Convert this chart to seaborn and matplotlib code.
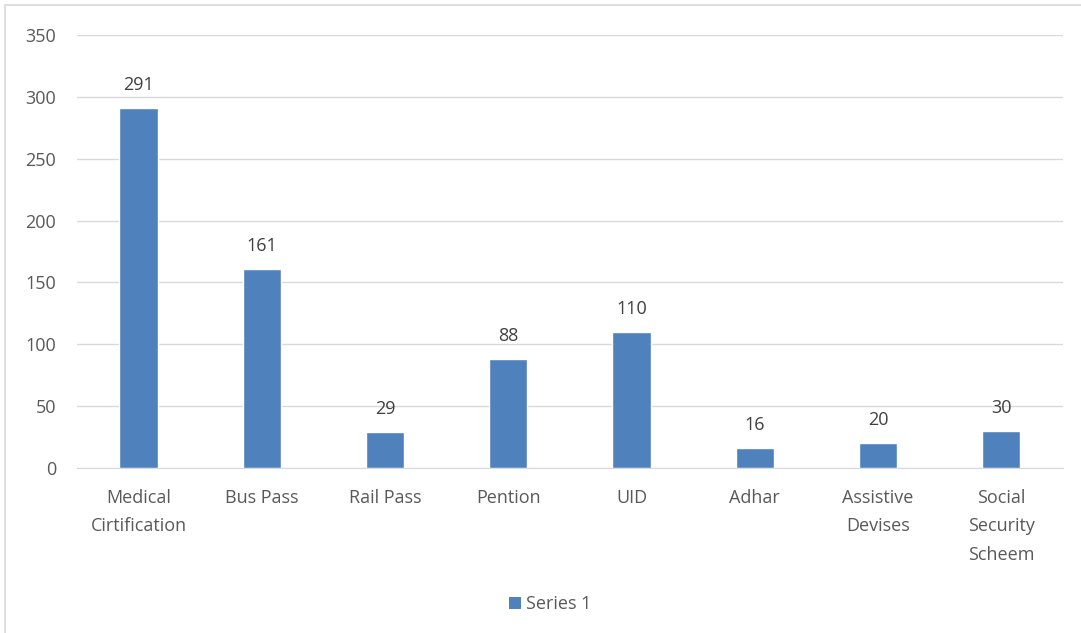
import matplotlib
matplotlib.use('Agg')
import matplotlib.pyplot as plt
import pandas as pd
import seaborn as sns
from matplotlib.patches import Rectangle

categories = ['Medical\nCirtification', 'Bus Pass', 'Rail Pass', 'Pention', 'UID',
              'Adhar', 'Assistive\nDevises', 'Social\nSecurity\nScheem']
values = [291, 161, 29, 88, 110, 16, 20, 30]
series_name = 'Series 1'
yticks = [0, 50, 100, 150, 200, 250, 300, 350]

BAR_COLOR = '#4F81BD'
TEXT_COLOR = '#595959'
GRID_COLOR = '#D9D9D9'

sns.set_style('white')
plt.rcParams['font.family'] = ['Open Sans', 'DejaVu Sans']

df = pd.DataFrame({'category': categories, 'value': values, 'series': series_name})

fig = plt.figure(figsize=(10.81, 6.33), dpi=100)
ax = fig.add_axes([0.0712, 0.2607, 0.912, 0.684])

sns.barplot(data=df, x='category', y='value', hue='series', palette=[BAR_COLOR],
            saturation=1, width=0.31, ax=ax, legend=False)

ax.set_ylim(0, 350)
ax.set_yticks(yticks)
ax.set_xlim(-0.5, len(categories) - 0.5)
ax.yaxis.grid(True, color=GRID_COLOR, linewidth=1)
ax.set_axisbelow(True)
for side in ['top', 'right', 'left']:
    ax.spines[side].set_visible(False)
ax.spines['bottom'].set_color(GRID_COLOR)
ax.tick_params(axis='both', length=0, labelsize=13, colors=TEXT_COLOR)
ax.tick_params(axis='x', pad=15)
ax.tick_params(axis='y', pad=15)
for lbl in ax.get_xticklabels():
    lbl.set_linespacing(1.76)
ax.set_xlabel('')
ax.set_ylabel('')

for cont in ax.containers:
    ax.bar_label(cont, labels=[str(v) for v in values], padding=10, fontsize=13, color='#404040')

# legend
fig.patches.append(Rectangle((0.4705, 0.0375), 0.0115, 0.019, transform=fig.transFigure,
                             facecolor=BAR_COLOR, edgecolor='none'))
fig.text(0.4865, 0.0465, series_name, fontsize=13, color=TEXT_COLOR, va='center', ha='left')

# chart border
fig.patches.append(Rectangle((0.005, -0.01), 1.2, 1.002, transform=fig.transFigure,
                             facecolor='none', edgecolor=GRID_COLOR, linewidth=1.2))

fig.savefig('out.png', dpi=100)
